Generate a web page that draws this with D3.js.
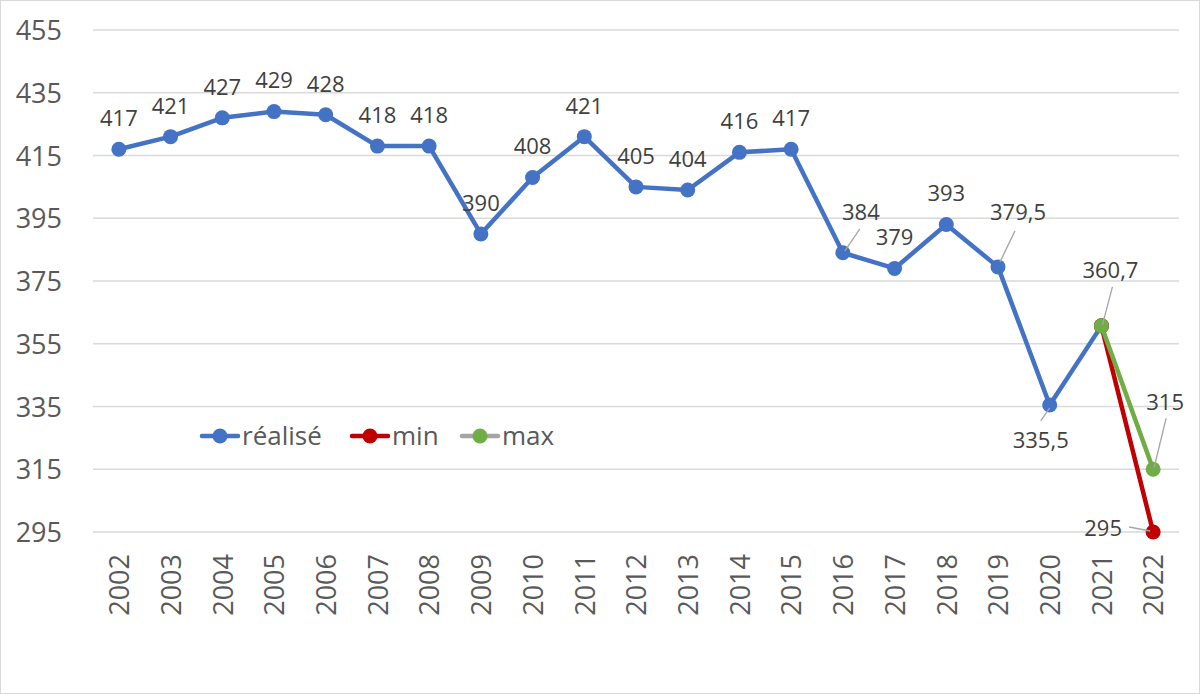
<!DOCTYPE html>
<html>
<head>
<meta charset="utf-8">
<script src="https://cdn.jsdelivr.net/npm/d3@7"></script>
<style>
  body { margin: 0; background: #fff; }
  svg { display: block; font-family: "Open Sans", "Noto Sans", sans-serif; }
</style>
</head>
<body>
<script>
// data
var years = ["2002","2003","2004","2005","2006","2007","2008","2009","2010","2011",
             "2012","2013","2014","2015","2016","2017","2018","2019","2020","2021","2022"];
var realise = [417, 421, 427, 429, 428, 418, 418, 390, 408, 421,
               405, 404, 416, 417, 384, 379, 393, 379.5, 335.5, 360.7];
var minYears = ["2021", "2022"], minValues = [360.7, 295];
var maxYears = ["2021", "2022"], maxValues = [360.7, 315];
var yTicks = [295, 315, 335, 355, 375, 395, 415, 435, 455];

var width = 1200, height = 694;
var plotLeft = 93, plotRight = 1179, plotTop = 30, plotBottom = 532;

var svg = d3.select("body").append("svg")
    .attr("width", width).attr("height", height);

// cadre
svg.append("rect").attr("x", 0.5).attr("y", 0.5)
    .attr("width", width - 1).attr("height", height - 1)
    .attr("fill", "#fff").attr("stroke", "#d9d9d9");

var x = d3.scalePoint().domain(years).range([plotLeft, plotRight]).padding(0.5);
var y = d3.scaleLinear().domain([295, 455]).range([plotBottom, plotTop]);

// grille
svg.append("g").selectAll("line").data(yTicks).enter().append("line")
    .attr("x1", plotLeft).attr("x2", plotRight)
    .attr("y1", function(d) { return y(d); }).attr("y2", function(d) { return y(d); })
    .attr("stroke", "#d9d9d9").attr("stroke-width", 1.3);

// axe Y
var yAxis = d3.axisLeft(y).tickValues(yTicks).tickSize(0).tickPadding(0);
svg.append("g").attr("transform", "translate(62,0)").call(yAxis)
    .call(function(g) { g.select(".domain").remove(); })
    .selectAll("text")
    .attr("font-size", 27).attr("fill", "#595959")
    .attr("font-family", "Open Sans, sans-serif").attr("dy", "0.36em");

// axe X
var xAxis = d3.axisBottom(x).tickSize(0).tickPadding(0);
svg.append("g").attr("transform", "translate(0," + plotBottom + ")").call(xAxis)
    .call(function(g) { g.select(".domain").remove(); })
    .selectAll("text")
    .attr("font-size", 27).attr("fill", "#595959")
    .attr("font-family", "Open Sans, sans-serif")
    .attr("transform", "rotate(-90)")
    .attr("text-anchor", "end")
    .attr("x", -22).attr("y", 0).attr("dy", "0.36em");

function series(xs, vals, color) {
    var pts = xs.map(function(k, i) { return [x(k), y(vals[i])]; });
    svg.append("path").datum(pts)
        .attr("d", d3.line())
        .attr("fill", "none").attr("stroke", color)
        .attr("stroke-width", 4.5).attr("stroke-linejoin", "round").attr("stroke-linecap", "round");
    svg.append("g").selectAll("circle").data(pts).enter().append("circle")
        .attr("cx", function(d) { return d[0]; }).attr("cy", function(d) { return d[1]; })
        .attr("r", 7.5).attr("fill", color);
}

series(years.slice(0, realise.length), realise, "#4472C4");
series(minYears, minValues, "#C00000");
series(maxYears, maxValues, "#70AD47");

// etiquettes
var labels = [];
realise.forEach(function(v, i) { labels.push({ year: years[i], value: v }); });
labels.push({ year: "2022", value: minValues[1], key: "min" });
labels.push({ year: "2022", value: maxValues[1], key: "max" });

// décalages des étiquettes déplacées (dx, dy du centre du texte, et ligne de rappel)
var moved = {
    "2016": { dx: 18, dy: -41, lead: [[2, -2], [17, -24]] },
    "2019": { dx: 20, dy: -55, lead: [[2, -5], [17, -36]] },
    "2020": { dx: -9, dy: 35, lead: [[-9, 16], [0, 3]] },
    "2021": { dx: 9, dy: -56, lead: [[11, -39], [1, -1]] },
    "max":  { dx: 12, dy: -67, lead: [[13, -51], [1, -2]] },
    "min":  { dx: -50, dy: -4, lead: [[-24, -5], [-3, -1]] }
};

labels.forEach(function(d) {
    var px = x(d.year), py = y(d.value);
    var m = moved[d.key || d.year];
    var cx = px, cy = py - 31;
    if (m) { cx = px + m.dx; cy = py + m.dy; }
    if (m && m.lead) {
        svg.append("line")
            .attr("x1", px + m.lead[0][0]).attr("y1", py + m.lead[0][1])
            .attr("x2", px + m.lead[1][0]).attr("y2", py + m.lead[1][1])
            .attr("stroke", "#a6a6a6").attr("stroke-width", 1.3);
    }
    svg.append("text")
        .attr("x", cx).attr("y", cy).attr("dy", "0.36em")
        .attr("text-anchor", "middle")
        .attr("font-size", 22).attr("fill", "#404040")
        .text(String(d.value).replace(".", ","));
});

// légende
var legend = [
    { name: "réalisé", line: "#4472C4", dot: "#4472C4", x: 200 },
    { name: "min", line: "#C00000", dot: "#C00000", x: 350 },
    { name: "max", line: "#A5A5A5", dot: "#70AD47", x: 460 }
];
var lg = svg.append("g").attr("transform", "translate(0,436)");
legend.forEach(function(d) {
    lg.append("line").attr("x1", d.x + 2).attr("x2", d.x + 38)
        .attr("stroke", d.line).attr("stroke-width", 4.5).attr("stroke-linecap", "round");
    lg.append("circle").attr("cx", d.x + 20).attr("r", 7.5).attr("fill", d.dot);
    lg.append("text").attr("x", d.x + 42).attr("dy", "0.36em")
        .attr("font-size", 26).attr("fill", "#595959").text(d.name);
});
</script>
</body>
</html>
